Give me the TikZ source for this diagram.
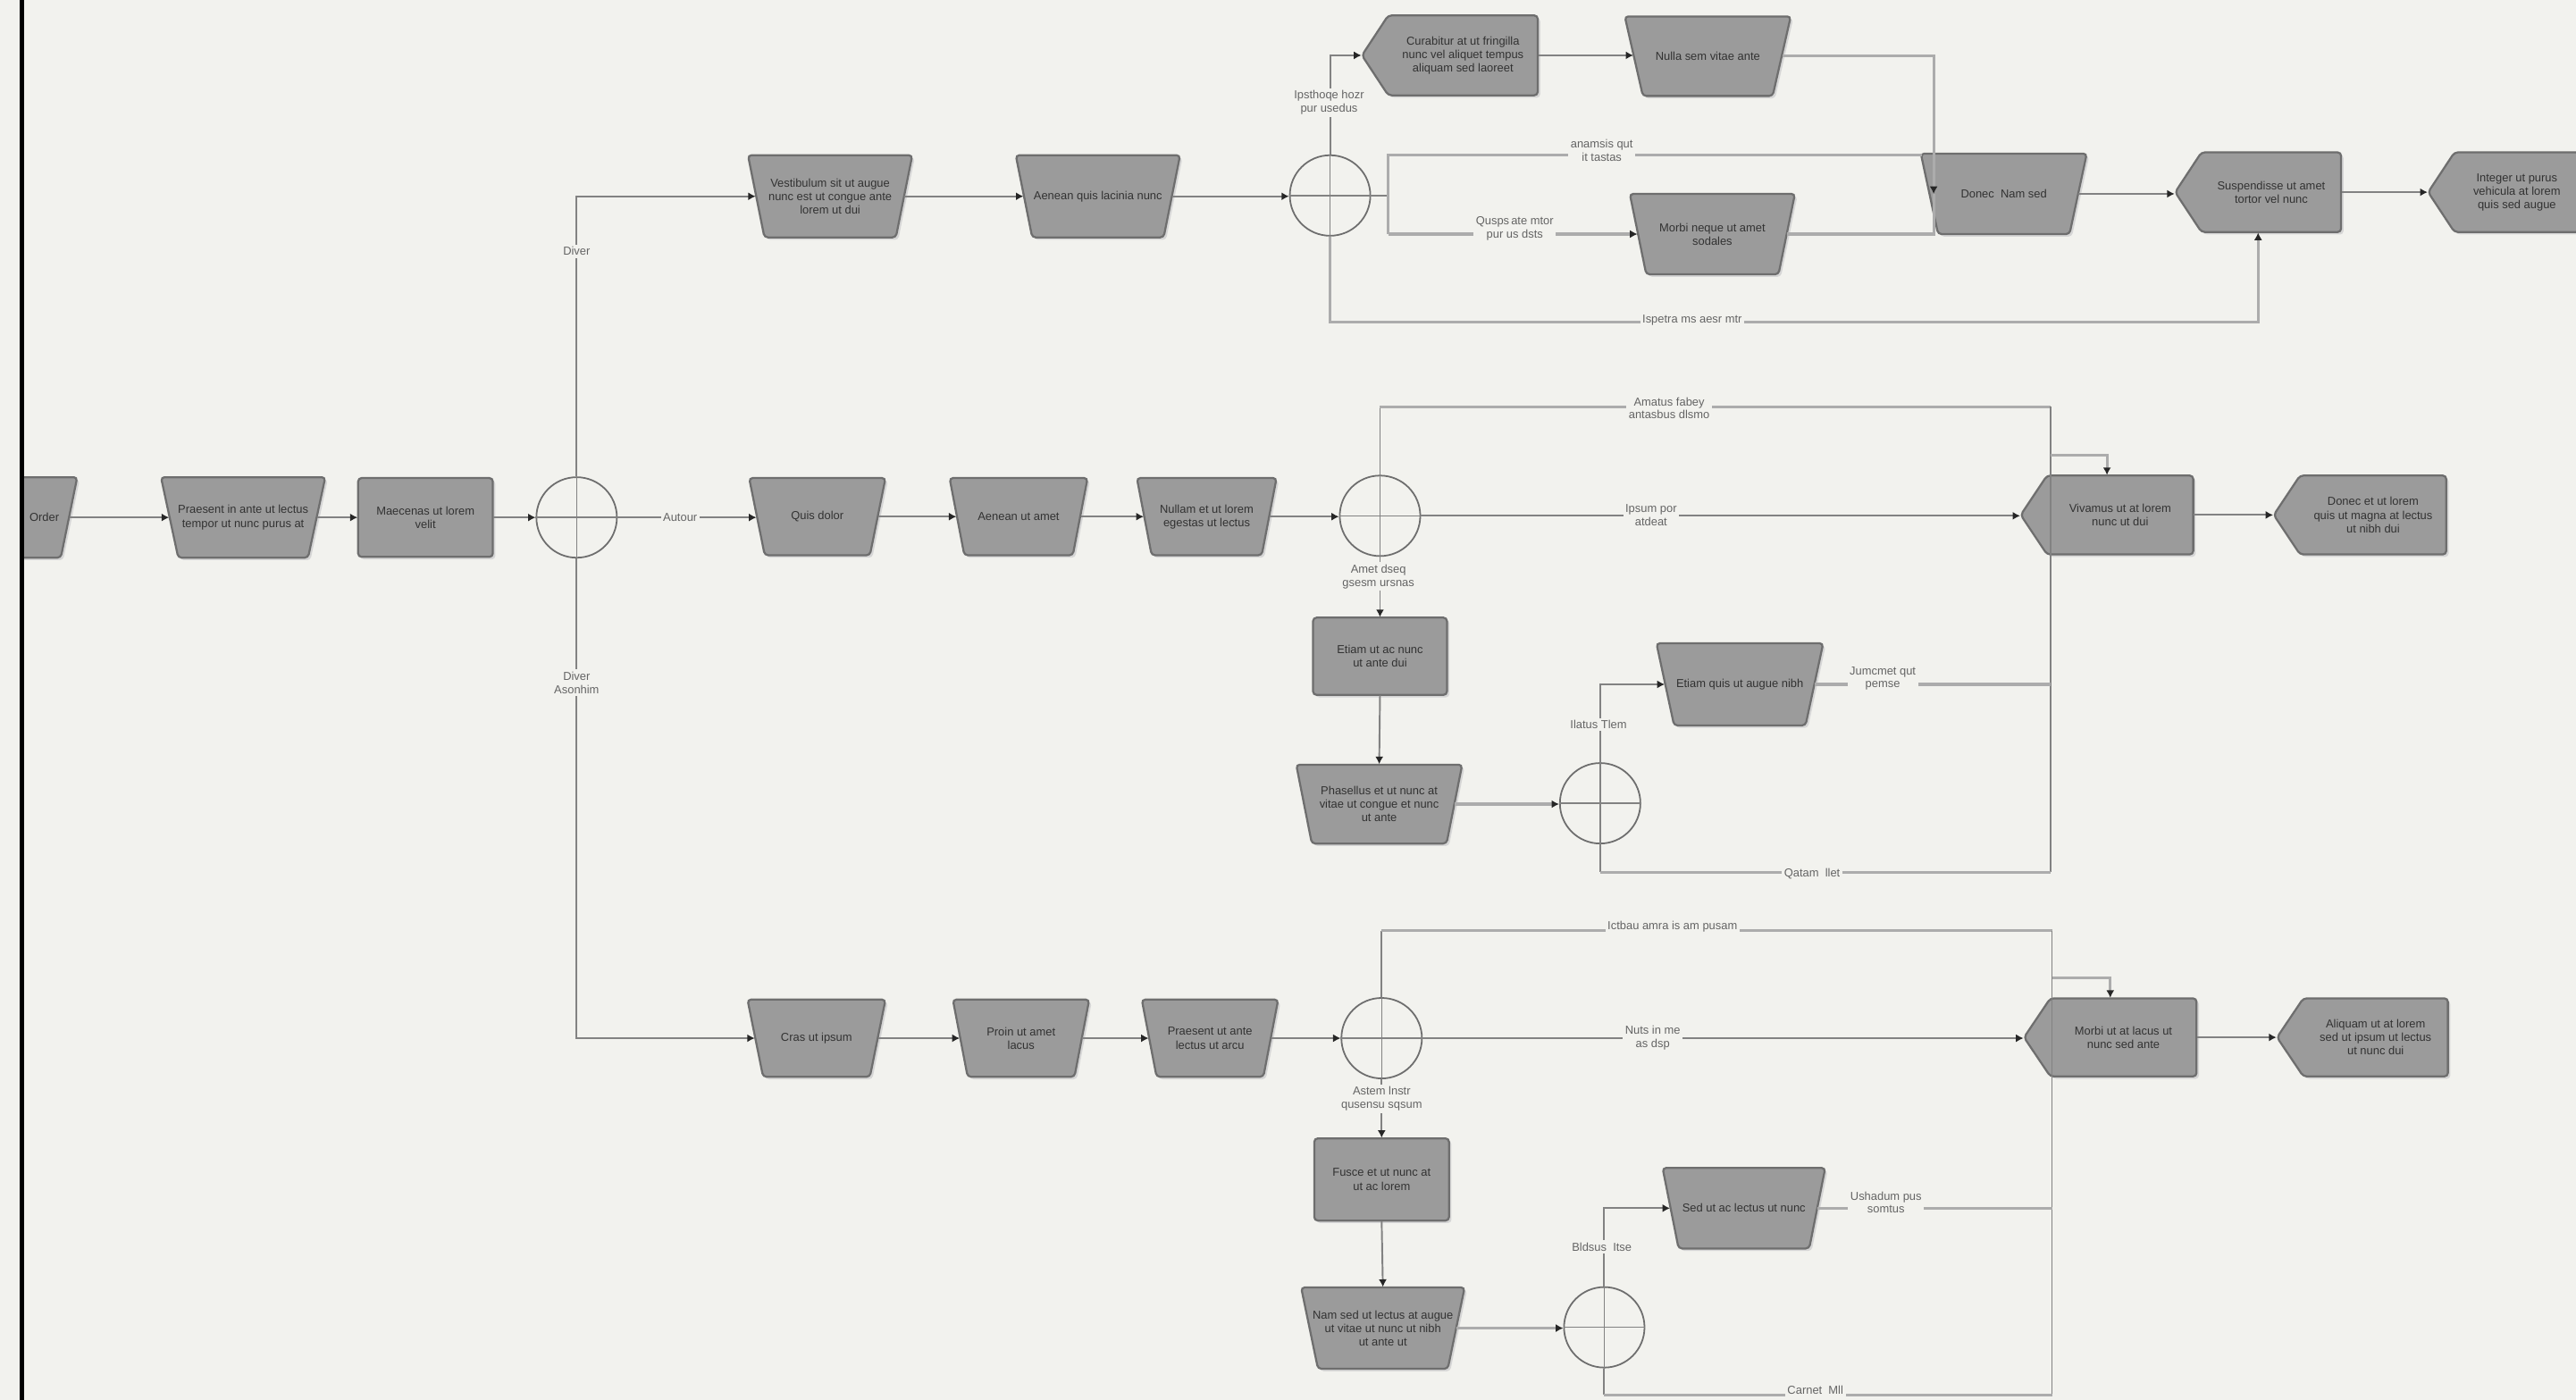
\documentclass[tikz,border=0pt]{standalone}
\usepackage{fontspec}
\setmainfont{Liberation Sans}
\usetikzlibrary{calc,arrows.meta}
\definecolor{bg}{RGB}{242,242,238}
\definecolor{nfill}{RGB}{155,155,155}
\definecolor{ndraw}{RGB}{110,110,110}
\definecolor{ln}{RGB}{130,130,130}
\definecolor{lnl}{RGB}{172,172,172}
\definecolor{txt}{RGB}{50,50,50}
\definecolor{ltxt}{RGB}{100,100,100}
\tikzset{
 shp/.style={fill=nfill, draw=ndraw, line width=0.7pt, rounded corners=1.2pt},
 shd/.style={fill=black!16, rounded corners=1.2pt},
 box/.style={inner sep=0pt, align=center, text=txt, font=\fontsize{4}{4.7}\selectfont},
 gw/.style={circle, draw=ndraw, line width=0.55pt, minimum size=49*0.02cm, inner sep=0pt},
 conn/.style={draw=ln, line width=0.6pt},
 loopc/.style={draw=lnl, line width=0.95pt},
 arr/.style={-{Latex[length=2.6pt,width=2.8pt,color=black!85]}},
 lbl/.style={fill=bg, inner sep=0.8pt, align=center, text=ltxt, font=\fontsize{4}{4.6}\selectfont},
}
\newcommand\Trap[7]{%
 \fill[shd] ({#2-#4/2+1.5},{#3-#6/2+1.5}) -- ({#2+#4/2+1.5},{#3-#6/2+1.5}) -- ({#2+#5/2+1.5},{#3+#6/2+1.5}) -- ({#2-#5/2+1.5},{#3+#6/2+1.5}) -- cycle;
 \path[shp] ({#2-#4/2},{#3-#6/2}) -- ({#2+#4/2},{#3-#6/2}) -- ({#2+#5/2},{#3+#6/2}) -- ({#2-#5/2},{#3+#6/2}) -- cycle;
 \node[box,minimum width={(#4+#5)/2*0.02cm},minimum height={#6*0.02cm}] (#1) at (#2,#3) {#7};}
\newcommand\Rect[6]{%
 \fill[shd] ({#2-#4/2+1.5},{#3-#5/2+1.5}) rectangle ({#2+#4/2+1.5},{#3+#5/2+1.5});
 \path[shp] ({#2-#4/2},{#3-#5/2}) rectangle ({#2+#4/2},{#3+#5/2});
 \node[box,minimum width={#4*0.02cm},minimum height={#5*0.02cm}] (#1) at (#2,#3) {#6};}
\newcommand\Hex[6]{%
 \fill[shd] ({#2+1.5},{#4+1.5}) -- ({#2+17.5},{#4-#5/2+1.5}) -- ({#3+1.5},{#4-#5/2+1.5}) -- ({#3+1.5},{#4+#5/2+1.5}) -- ({#2+17.5},{#4+#5/2+1.5}) -- cycle;
 \path[shp] (#2,#4) -- ({#2+16},{#4-#5/2}) -- (#3,{#4-#5/2}) -- (#3,{#4+#5/2}) -- ({#2+16},{#4+#5/2}) -- cycle;
 \node[box,minimum width={(#3-#2)*0.02cm},minimum height={#5*0.02cm}] (#1) at ({(#2+#3)/2},#4) {};
 \node[box] (#1t) at ({(#2+16+#3)/2},#4) {#6};}
\newcommand\Gw[3]{%
 \node[gw] (#1) at (#2,#3) {};
 \draw[ln,line width=0.5pt] (#1.north) -- (#1.south) (#1.west) -- (#1.east);}
\begin{document}
\begin{tikzpicture}[x=0.02cm,y=-0.02cm]
\fill[bg] (0,0) rectangle (1568,852);
\useasboundingbox (0,0) rectangle (1568,852);
\clip (0,0) rectangle (1568,852);

% middle-left
\Trap{A}{-3}{315}{100}{80}{49}{}
\node[box] (At) at (27,315) {Order};
\Trap{B}{148}{315}{100}{79}{49}{Praesent in ante ut lectus\\ tempor ut nunc purus at}
\Rect{C}{259}{315}{82}{48}{Maecenas ut lorem\\ velit}
\Gw{G0}{351}{315}

% top row
\Trap{T1}{505.3}{119.5}{100}{80}{50}{Vestibulum sit ut augue\\ nunc est ut congue ante\\ lorem ut dui}
\Trap{T2}{668.3}{119.5}{100}{80}{50}{Aenean quis lacinia nunc}
\Gw{GT}{809.6}{119}
\Hex{T3}{829}{936}{33.7}{48.6}{Curabitur at ut fringilla\\ nunc vel aliquet tempus\\ aliquam sed laoreet}
\Trap{T4}{1039.5}{34.2}{101}{79}{48.4}{Nulla sem vitae ante}
\Trap{T6}{1042.3}{142.5}{100.5}{80.5}{49}{Morbi neque ut amet\\ sodales}
\Trap{T5}{1219.7}{118}{101}{80}{49}{Donec \ Nam sed}
\Hex{T7}{1324}{1425}{117}{48.5}{Suspendisse ut amet\\ tortor vel nunc}
\Hex{T8}{1478}{1570}{117}{48.5}{Integer ut purus\\ vehicula at lorem\\ quis sed augue}

% middle row
\Trap{M1}{497.5}{314.5}{83}{64}{47}{Quis dolor}
\Trap{M2}{620}{314.5}{84}{66}{47}{Aenean ut amet}
\Trap{M3}{734.5}{314.5}{85}{67}{47}{Nullam et ut lorem\\ egestas ut lectus}
\Gw{GM}{840}{314}
\Hex{M5}{1230}{1335}{313.5}{48}{Vivamus ut at lorem\\ nunc ut dui}
\Hex{M6}{1384}{1489}{313.5}{48}{Donec et ut lorem\\ quis ut magna at lectus\\ ut nibh dui}
\Rect{M4}{840}{399.5}{81.5}{47}{Etiam ut ac nunc\\ ut ante dui}
\Trap{M7}{839.5}{489.5}{101}{82}{48}{Phasellus et ut nunc at\\ vitae ut congue et nunc\\ ut ante}
\Gw{GM2}{974}{489}
\Trap{M8}{1059}{416.6}{101.5}{80}{50}{Etiam quis ut augue nibh}

% bottom row
\Trap{B1}{497}{632}{84}{65}{47}{Cras ut ipsum}
\Trap{B2}{621.5}{632}{83}{65}{47}{Proin ut amet\\ lacus}
\Trap{B3}{736.5}{632}{83}{65}{47}{Praesent ut ante\\ lectus ut arcu}
\Gw{GB}{841}{632}
\Hex{B5}{1232}{1337}{631.5}{47.5}{Morbi ut at lacus ut\\ nunc sed ante}
\Hex{B6}{1386}{1490}{631.5}{47.5}{Aliquam ut at lorem\\ sed ut ipsum ut lectus\\ ut nunc dui}
\Rect{B4}{841}{718}{82}{50}{Fusce et ut nunc at\\ ut ac lorem}
\Trap{B7}{841.75}{808.5}{99.5}{79}{49.5}{Nam sed ut lectus at augue\\ ut vitae ut nunc ut nibh\\ ut ante ut}
\Gw{GB2}{976.5}{808}
\Trap{B8}{1061.5}{735.5}{99}{79.5}{49}{Sed ut ac lectus ut nunc}

% ---------------- connectors ----------------
\draw[conn,arr] (A.east) -- (B.west);
\draw[conn,arr] (B.east) -- (C.west);
\draw[conn,arr] (C.east) -- (G0.west);
\draw[conn,arr] (G0.north) |- (T1.west);
\draw[conn,arr] (G0.south) |- (B1.west);
\draw[conn,arr] (G0.east) -- (G0.east -| M1.west);

% top
\draw[conn,arr] (T1.east) -- (T2.west);
\draw[conn,arr] (T2.east) -- (T2.east -| GT.west);
\draw[conn,arr] (GT.north) |- (T3.west);
\draw[conn,arr] (T3.east) -- (T3.east -| T4.west);
\coordinate (t5in) at (1177,118);
\draw[loopc,arr] (T4.east) -| (t5in);
\coordinate (gts) at (845,119);
\draw[conn] (GT.east) -- (gts);
\coordinate (t5c) at (1170,94.3);
\draw[loopc] (845,142.5) -- (845,94.3) -- (t5c);
\draw[loopc,arr] (845,142.5) -- (T6.west);
\draw[loopc] (T6.east) -| (t5in);
\draw[loopc,arr] (GT.south) -- (809.6,196) -| (T7.south);
\draw[conn,arr] (T5.east) -- (T5.east -| T7.west);
\draw[conn,arr] (T7.east) -- (T8.west);

% middle
\draw[conn,arr] (M1.east) -- (M2.west);
\draw[conn,arr] (M2.east) -- (M3.west);
\draw[conn,arr] (M3.east) -- (M3.east -| GM.west);
\draw[conn] (GM.north) -- (840,247.5);
\draw[loopc] (840,247.5) -- (1248,247.5);
\draw[conn] (1248,247.5) -- (1248,531);
\draw[loopc,arr] (1248,277) -| (M5.north);
\draw[conn,arr] (GM.east) -- (GM.east -| M5.west);
\draw[conn,arr] (M5.east) -- (M6.west);
\draw[conn,arr] (GM.south) -- (M4.north);
\draw[conn,arr] (M4.south) -- (M7.north);
\draw[loopc,arr] (M7.east) -- (M7.east -| GM2.west);
\draw[conn,arr] (GM2.north) |- (M8.west);
\draw[loopc] (M8.east) -- (1248,416.6);
\draw[conn] (GM2.south) -- (974,531);
\draw[loopc] (974,531) -- (1248,531);

% bottom
\draw[conn,arr] (B1.east) -- (B2.west);
\draw[conn,arr] (B2.east) -- (B3.west);
\draw[conn,arr] (B3.east) -- (GB.west);
\draw[conn] (GB.north) -- (841,566.5);
\draw[loopc] (841,566.5) -- (1249,566.5);
\draw[conn] (1249,566.5) -- (1249,849);
\draw[loopc,arr] (1249,595.5) -| (B5.north);
\draw[conn,arr] (GB.east) -- (GB.east -| B5.west);
\draw[conn,arr] (B5.east) -- (B6.west);
\draw[conn,arr] (GB.south) -- (B4.north);
\draw[conn,arr] (B4.south) -- (B7.north);
\draw[loopc,arr] (B7.east) -- (B7.east -| GB2.west);
\draw[conn,arr] (GB2.north) |- (B8.west);
\draw[loopc] (B8.east) -- (1249,735.5);
\draw[conn] (GB2.south) -- (976.5,849);
\draw[loopc] (976.5,849) -- (1249,849);

% ---------------- labels ----------------
\node[lbl] (lA) at (351,153) {Diver};
\node[lbl] (lB) at (351,415.5) {Diver\\ Asonhim};
\node[lbl] (lC) at (414,315) {Autour};
\node[lbl] (lT1) at (809,62.5) {Ipsthoqe hozr\\ pur usedus};
\node[lbl] (lT2) at (975,91.5) {anamsis qut\\ it tastas};
\node[lbl] (lT3) at (922,139) {Qusps\,ate mtor\\ pur us dsts};
\node[lbl] (lT4) at (1030,195) {Ispetra ms aesr mtr};
\node[lbl] (lM1) at (1016,248.5) {Amatus fabey\\ antasbus dlsmo};
\node[lbl] (lM2) at (1005,313.5) {Ipsum por\\ atdeat};
\node[lbl] (lM3) at (839,351) {Amet dseq\\ gsesm ursnas};
\node[lbl] (lM4) at (973,441) {Ilatus Tlem};
\node[lbl] (lM5) at (1146,413) {Jumcmet qut\\ pemse};
\node[lbl] (lM6) at (1103,532) {Qatam \ llet};
\node[lbl] (lB1) at (1018,564) {Ictbau amra is am pusam};
\node[lbl] (lB2) at (1006,632) {Nuts in me\\ as dsp};
\node[lbl] (lB3) at (841,669) {Astem lnstr\\ qusensu sqsum};
\node[lbl] (lB4) at (975,759) {Bldsus \ Itse};
\node[lbl] (lB5) at (1148,732) {Ushadum pus\\ somtus};
\node[lbl] (lB6) at (1105,846) {Carnet \ Mll};

% left border
\fill[bg] (0,0) rectangle (12.5,852);
\draw[black, line width=1.5pt] (13.5,0) -- (13.5,852);
\end{tikzpicture}
\end{document}
